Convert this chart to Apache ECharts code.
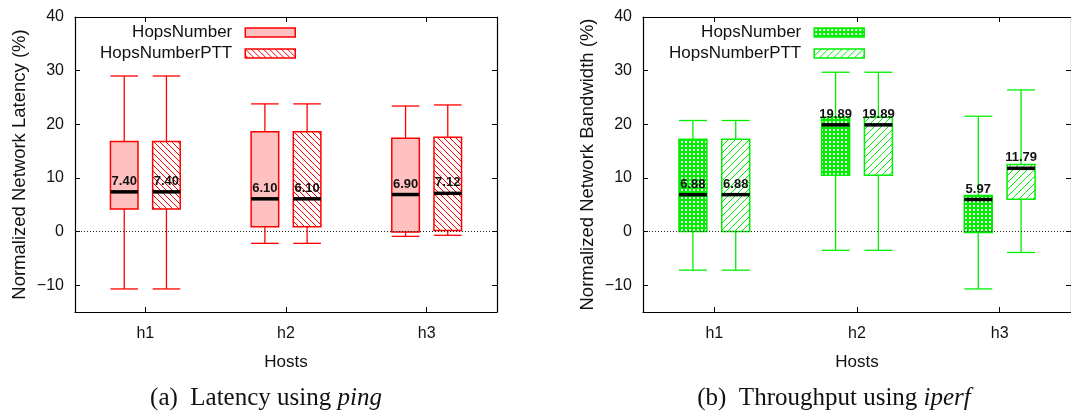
<!DOCTYPE html>
<html>
<head>
<meta charset="utf-8">
<script src="https://cdn.jsdelivr.net/npm/echarts@6/dist/echarts.min.js"></script>
<style>
  html, body { margin: 0; padding: 0; background: #fff; }
  #main { width: 1071px; height: 418px; }
</style>
</head>
<body>
<div id="main"></div>
<script>
// categories
var hosts = ['h1', 'h2', 'h3'];

// box data per host: [whiskerLow, q1, median, q3, whiskerHigh]
var latencyHops = [[-10.7, 4.2, 7.40, 16.8, 29.0], [-2.2, 0.9, 6.10, 18.6, 23.8], [-0.9, -0.1, 6.90, 17.4, 23.4]];
var latencyPTT  = [[-10.7, 4.2, 7.40, 16.8, 29.0], [-2.2, 0.9, 6.10, 18.6, 23.8], [-0.7, 0.2, 7.12, 17.6, 23.6]];
var bwHops = [[-7.2, 0.0, 6.88, 17.2, 20.7], [-3.5, 10.5, 19.89, 21.3, 29.7], [-10.7, -0.2, 5.97, 6.7, 21.5]];
var bwPTT  = [[-7.2, 0.0, 6.88, 17.2, 20.7], [-3.5, 10.5, 19.89, 21.3, 29.7], [-3.9, 6.0, 11.79, 12.5, 26.4]];

var RED = '#ff0000';
var PINK = '#ffc0c0';
var GREEN = '#00ee00';
var FONT = 'Liberation Sans';

//pattern tiles
function makeTile(size, draw) {
    var c = document.createElement('canvas');
    c.width = size;
    c.height = size;
    var ctx = c.getContext('2d');
    ctx.fillStyle = '#fff';
    ctx.fillRect(0, 0, size, size);
    draw(ctx, size);
    return { image: c, repeat: 'repeat' };
}
var redHatch = makeTile(6, function (ctx, s) {   // "\\\\"
    ctx.strokeStyle = RED;
    ctx.lineWidth = 1;
    for (var k = -1; k <= 1; k++) {
        ctx.beginPath();
        ctx.moveTo(0, k * s);
        ctx.lineTo(s, k * s + s);
        ctx.stroke();
    }
});
var greenHatch = makeTile(7, function (ctx, s) {   // "////"
    ctx.strokeStyle = GREEN;
    ctx.lineWidth = 1;
    for (var k = 0; k <= 2; k++) {
        ctx.beginPath();
        ctx.moveTo(0, k * s);
        ctx.lineTo(s, k * s - s);
        ctx.stroke();
    }
});
var greenCheck = makeTile(4, function (ctx, s) {
    ctx.fillStyle = GREEN;
    ctx.fillRect(0, 0, s, s);
    ctx.fillStyle = '#fff';
    ctx.fillRect(1, 1, 2, 2);
});

function toRows(list) {
    return list.map(function (b, i) { return [i].concat(b); });
}

//custom box renderer
function boxRenderer(offset, fill, stroke) {
    return function (params, api) {
        var x = api.value(0);
        var lo = api.coord([x, api.value(1)]);
        var q1 = api.coord([x, api.value(2)]);
        var med = api.coord([x, api.value(3)]);
        var q3 = api.coord([x, api.value(4)]);
        var hi = api.coord([x, api.value(5)]);
        var band = api.size([1, 0])[0];
        var cx = lo[0] + band * offset;
        var w = band * 0.196;
        var ln = { stroke: stroke, lineWidth: 1.3 };
        return {
            type: 'group',
            children: [
                { type: 'line', shape: { x1: cx, y1: hi[1], x2: cx, y2: q3[1] }, style: ln },
                { type: 'line', shape: { x1: cx, y1: lo[1], x2: cx, y2: q1[1] }, style: ln },
                { type: 'line', shape: { x1: cx - w / 2, y1: hi[1], x2: cx + w / 2, y2: hi[1] }, style: ln },
                { type: 'line', shape: { x1: cx - w / 2, y1: lo[1], x2: cx + w / 2, y2: lo[1] }, style: ln },
                { type: 'rect', shape: { x: cx - w / 2, y: q3[1], width: w, height: q1[1] - q3[1] },
                  style: { fill: fill, stroke: stroke, lineWidth: 1.5 } },
                { type: 'line', shape: { x1: cx - w / 2, y1: med[1], x2: cx + w / 2, y2: med[1] },
                  style: { stroke: '#000', lineWidth: 3.5 } },
                { type: 'text', x: cx, y: med[1] - 4,
                  style: { text: api.value(3).toFixed(2), fill: '#111', align: 'center', verticalAlign: 'bottom',
                           font: 'bold 13px "' + FONT + '"' } }
            ]
        };
    };
}

function boxSeries(name, data, xi, yi, offset, fill, stroke) {
    return {
        name: name,
        type: 'custom',
        xAxisIndex: xi,
        yAxisIndex: yi,
        itemStyle: { color: fill, borderColor: stroke, borderWidth: 1 },
        encode: { x: 0, y: [1, 2, 3, 4, 5] },
        data: toRows(data),
        renderItem: boxRenderer(offset, fill, stroke)
    };
}

var zeroLine = {
    silent: true,
    symbol: 'none',
    label: { show: false },
    lineStyle: { color: '#222', width: 1, type: [1, 2] },
    data: [{ yAxis: 0 }]
};

function yLabel(v) {
    return v === -15 ? '' : String(v).replace('-', '\u2212');
}

var axisLine = { show: true, onZero: false, lineStyle: { color: '#000', width: 1.2 } };

function mainY(gi, name) {
    return {
        gridIndex: gi, type: 'value', min: -15, max: 40, splitNumber: 5,
        name: name, nameLocation: 'middle', nameGap: 46,
        nameTextStyle: { fontFamily: FONT, fontSize: 18.5, color: '#111' },
        axisLine: axisLine,
        axisTick: { show: true, inside: true, length: 5, lineStyle: { color: '#000' } },
        axisLabel: { margin: 11, fontFamily: FONT, fontSize: 16, color: '#111', showMinLabel: false, formatter: yLabel },
        splitLine: { show: false }
    };
}
function mirrorY(gi) {
    return {
        gridIndex: gi, type: 'value', min: -15, max: 40, splitNumber: 5, position: 'right',
        axisLine: axisLine,
        axisTick: { show: true, inside: true, length: 5, lineStyle: { color: '#000' } },
        axisLabel: { show: false },
        splitLine: { show: false }
    };
}
function mainX(gi) {
    return {
        gridIndex: gi, type: 'category', data: hosts,
        name: 'Hosts', nameLocation: 'middle', nameGap: 42,
        nameTextStyle: { fontFamily: FONT, fontSize: 17, color: '#111' },
        axisLine: axisLine,
        axisTick: { show: true, inside: true, length: 5, alignWithLabel: true, lineStyle: { color: '#000' } },
        axisLabel: { margin: 14, fontFamily: FONT, fontSize: 16, color: '#111' }
    };
}
function mirrorX(gi) {
    return {
        gridIndex: gi, type: 'category', data: hosts, position: 'top',
        axisLine: axisLine,
        axisTick: { show: true, inside: true, length: 5, alignWithLabel: true, lineStyle: { color: '#000' } },
        axisLabel: { show: false }
    };
}

function legendFor(right, names, styles) {
    return {
        orient: 'vertical', right: right, top: 24, padding: 0, itemGap: 4,
        align: 'right', icon: 'rect', itemWidth: 50, itemHeight: 9,
        selectedMode: false,
        formatter: function (n) { return n.split(':')[1]; },
        textStyle: { fontFamily: FONT, fontSize: 17, color: '#111', padding: [0, 8, 0, 0] },
        data: names.map(function (n, i) { return { name: n, itemStyle: styles[i] }; })
    };
}

var option = {
    animation: false,
    backgroundColor: '#fff',
    grid: [
        { left: 75, top: 17, width: 422, height: 295 },
        { left: 643, top: 17, width: 428, height: 295 }
    ],
    xAxis: [mainX(0), mirrorX(0), mainX(1), mirrorX(1)],
    yAxis: [
        mainY(0, 'Normalized Network Latency (%)'), mirrorY(0),
        mainY(1, 'Normalized Network Bandwidth (%)'), mirrorY(1)
    ],
    legend: [
        legendFor(775, ['lat:HopsNumber', 'lat:HopsNumberPTT'], [
            { color: PINK, borderColor: RED, borderWidth: 1.5 },
            { color: redHatch, borderColor: RED, borderWidth: 1.5 }
        ]),
        legendFor(206, ['bw:HopsNumber', 'bw:HopsNumberPTT'], [
            { color: greenCheck, borderColor: GREEN, borderWidth: 1.5 },
            { color: greenHatch, borderColor: GREEN, borderWidth: 1.5 }
        ])
    ],
    series: [
        Object.assign(boxSeries('lat:HopsNumber', latencyHops, 0, 0, -0.15, PINK, RED), { markLine: zeroLine }),
        boxSeries('lat:HopsNumberPTT', latencyPTT, 0, 0, 0.15, redHatch, RED),
        Object.assign(boxSeries('bw:HopsNumber', bwHops, 2, 2, -0.15, greenCheck, GREEN), { markLine: zeroLine }),
        boxSeries('bw:HopsNumberPTT', bwPTT, 2, 2, 0.15, greenHatch, GREEN)
    ],
    graphic: [
        { type: 'text', x: 266, y: 398,
          style: { text: '(a)  Latency using {i|ping}', align: 'center', verticalAlign: 'middle',
                   font: '25px "Liberation Serif"', fill: '#111',
                   rich: { i: { fontStyle: 'italic', fontFamily: 'Liberation Serif', fontSize: 25, fill: '#111' } } } },
        { type: 'text', x: 834, y: 398,
          style: { text: '(b)  Throughput using {i|iperf}', align: 'center', verticalAlign: 'middle',
                   font: '25px "Liberation Serif"', fill: '#111',
                   rich: { i: { fontStyle: 'italic', fontFamily: 'Liberation Serif', fontSize: 25, fill: '#111' } } } }
    ]
};

var chart = echarts.init(document.getElementById('main'));
chart.setOption(option);
</script>
</body>
</html>
